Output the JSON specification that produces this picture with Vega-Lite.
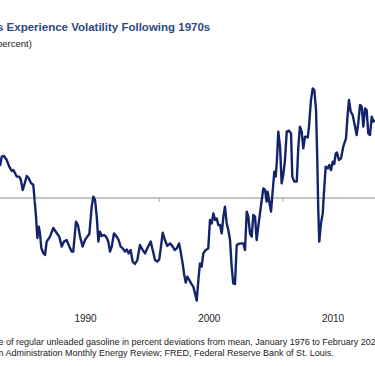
{
  "$schema": "https://vega.github.io/schema/vega-lite/v6.json",
  "width": 375,
  "height": 245,
  "autosize": {"type": "none"},
  "padding": {"left": 0, "top": 60, "right": 0, "bottom": 61},
  "background": "white",
  "title": {
    "text": "s Experience Volatility Following 1970s",
    "subtitle": "percent)",
    "anchor": "start",
    "frame": "group",
    "dx": -3,
    "offset": 12,
    "font": "Liberation Sans",
    "fontSize": 11.5,
    "fontWeight": "bold",
    "color": "#2c4a80",
    "subtitleFont": "Liberation Sans",
    "subtitleFontSize": 9.5,
    "subtitleColor": "#222222",
    "subtitlePadding": 5
  },
  "config": {"view": {"stroke": null}},
  "datasets": {
    "zero": [{"value": 0}],
    "ticks": [{"year": 1986, "value": 0}, {"year": 1996, "value": 0}, {"year": 2006, "value": 0}],
    "gas": [
      {"year": 1983.13, "value": 16}, {"year": 1983.27, "value": 20.7}, {"year": 1983.45, "value": 21}, {"year": 1983.67, "value": 19},
      {"year": 1983.88, "value": 15.7}, {"year": 1984.08, "value": 13.5}, {"year": 1984.21, "value": 14}, {"year": 1984.34, "value": 12.5},
      {"year": 1984.48, "value": 10.7}, {"year": 1984.67, "value": 10.7}, {"year": 1984.8, "value": 9.5}, {"year": 1984.97, "value": 4},
      {"year": 1985.09, "value": 6.5}, {"year": 1985.29, "value": 11}, {"year": 1985.45, "value": 10}, {"year": 1985.61, "value": 7.7},
      {"year": 1985.82, "value": 6.5}, {"year": 1985.93, "value": -1}, {"year": 1986.04, "value": -9.3}, {"year": 1986.15, "value": -20},
      {"year": 1986.26, "value": -14.3}, {"year": 1986.36, "value": -17.5}, {"year": 1986.47, "value": -25}, {"year": 1986.63, "value": -27.5},
      {"year": 1986.77, "value": -28.5}, {"year": 1986.9, "value": -21.8}, {"year": 1987.17, "value": -19.3}, {"year": 1987.44, "value": -15},
      {"year": 1987.71, "value": -17.5}, {"year": 1987.92, "value": -19.3}, {"year": 1988.12, "value": -24.3}, {"year": 1988.3, "value": -21.8},
      {"year": 1988.52, "value": -21}, {"year": 1988.68, "value": -23.5}, {"year": 1988.92, "value": -26.8}, {"year": 1989.05, "value": -26.8},
      {"year": 1989.27, "value": -11.8}, {"year": 1989.43, "value": -13.5}, {"year": 1989.6, "value": -19.3}, {"year": 1989.81, "value": -24.3},
      {"year": 1990.0, "value": -21}, {"year": 1990.19, "value": -19.3}, {"year": 1990.35, "value": -18}, {"year": 1990.54, "value": -4.3},
      {"year": 1990.67, "value": 0.7}, {"year": 1990.81, "value": -1}, {"year": 1990.95, "value": -9.3}, {"year": 1991.08, "value": -21.8},
      {"year": 1991.21, "value": -16.8}, {"year": 1991.35, "value": -19}, {"year": 1991.54, "value": -18.5}, {"year": 1991.7, "value": -19.3},
      {"year": 1991.88, "value": -21.8}, {"year": 1992.02, "value": -26.8}, {"year": 1992.16, "value": -24.3}, {"year": 1992.34, "value": -17.7},
      {"year": 1992.56, "value": -19.3}, {"year": 1992.72, "value": -21}, {"year": 1992.88, "value": -24.3}, {"year": 1993.05, "value": -25.2},
      {"year": 1993.23, "value": -26.8}, {"year": 1993.37, "value": -25.7}, {"year": 1993.53, "value": -27.7}, {"year": 1993.69, "value": -26},
      {"year": 1993.85, "value": -31.8}, {"year": 1994.04, "value": -33}, {"year": 1994.23, "value": -31}, {"year": 1994.44, "value": -23.5},
      {"year": 1994.66, "value": -26}, {"year": 1994.85, "value": -27.7}, {"year": 1994.99, "value": -25.7}, {"year": 1995.17, "value": -23.5},
      {"year": 1995.31, "value": -21.8}, {"year": 1995.47, "value": -26}, {"year": 1995.66, "value": -31}, {"year": 1995.84, "value": -31.8},
      {"year": 1996.0, "value": -30.7}, {"year": 1996.14, "value": -24.3}, {"year": 1996.28, "value": -17.3}, {"year": 1996.46, "value": -21},
      {"year": 1996.65, "value": -24}, {"year": 1996.87, "value": -22.7}, {"year": 1997.09, "value": -24.3}, {"year": 1997.25, "value": -26},
      {"year": 1997.41, "value": -25.2}, {"year": 1997.6, "value": -22.7}, {"year": 1997.73, "value": -26.8}, {"year": 1997.89, "value": -32.7},
      {"year": 1998.02, "value": -38.5}, {"year": 1998.14, "value": -42.3}, {"year": 1998.27, "value": -39.3}, {"year": 1998.43, "value": -41},
      {"year": 1998.57, "value": -42.7}, {"year": 1998.75, "value": -44.3}, {"year": 1998.89, "value": -47.7}, {"year": 1999.03, "value": -51.3},
      {"year": 1999.16, "value": -41}, {"year": 1999.29, "value": -32.7}, {"year": 1999.43, "value": -34.3}, {"year": 1999.56, "value": -27.7},
      {"year": 1999.75, "value": -26}, {"year": 1999.96, "value": -25.2}, {"year": 2000.1, "value": -11}, {"year": 2000.24, "value": -12.7},
      {"year": 2000.37, "value": -7.7}, {"year": 2000.51, "value": -11}, {"year": 2000.64, "value": -10.2}, {"year": 2000.77, "value": -13.5},
      {"year": 2000.91, "value": -13.5}, {"year": 2001.05, "value": -17.7}, {"year": 2001.18, "value": -9.3}, {"year": 2001.31, "value": -4.3},
      {"year": 2001.45, "value": -12.7}, {"year": 2001.58, "value": -16}, {"year": 2001.72, "value": -21}, {"year": 2001.85, "value": -34.3},
      {"year": 2001.98, "value": -42.7}, {"year": 2002.12, "value": -43}, {"year": 2002.26, "value": -23.5}, {"year": 2002.39, "value": -23},
      {"year": 2002.61, "value": -22.7}, {"year": 2002.79, "value": -22.7}, {"year": 2002.93, "value": -26}, {"year": 2003.07, "value": -6.8},
      {"year": 2003.2, "value": -9.3}, {"year": 2003.33, "value": -17.7}, {"year": 2003.47, "value": -19.3}, {"year": 2003.6, "value": -8.5},
      {"year": 2003.74, "value": -9.3}, {"year": 2003.87, "value": -21}, {"year": 2004.0, "value": -14.3}, {"year": 2004.14, "value": -7.7},
      {"year": 2004.28, "value": -1}, {"year": 2004.41, "value": 4.8}, {"year": 2004.55, "value": 4}, {"year": 2004.68, "value": -1.8},
      {"year": 2004.76, "value": 3.2}, {"year": 2004.87, "value": -1}, {"year": 2005.03, "value": -6.8}, {"year": 2005.14, "value": 1.5},
      {"year": 2005.3, "value": 13.2}, {"year": 2005.41, "value": 10.7}, {"year": 2005.51, "value": 19}, {"year": 2005.62, "value": 33.2},
      {"year": 2005.76, "value": 25.7}, {"year": 2005.89, "value": 7.3}, {"year": 2006.02, "value": 11.5}, {"year": 2006.16, "value": 19},
      {"year": 2006.3, "value": 33.2}, {"year": 2006.48, "value": 33.7}, {"year": 2006.65, "value": 32.3}, {"year": 2006.75, "value": 10.7},
      {"year": 2006.91, "value": 8.2}, {"year": 2007.11, "value": 8.2}, {"year": 2007.24, "value": 25.7}, {"year": 2007.37, "value": 35.7},
      {"year": 2007.51, "value": 33.2}, {"year": 2007.64, "value": 24.8}, {"year": 2007.78, "value": 30.7}, {"year": 2008.0, "value": 30.3},
      {"year": 2008.1, "value": 35.7}, {"year": 2008.26, "value": 49}, {"year": 2008.4, "value": 54.8}, {"year": 2008.53, "value": 54},
      {"year": 2008.67, "value": 44}, {"year": 2008.77, "value": 19}, {"year": 2008.85, "value": -6}, {"year": 2008.93, "value": -21.8},
      {"year": 2009.07, "value": -12.7}, {"year": 2009.21, "value": -7.7}, {"year": 2009.34, "value": 5.7}, {"year": 2009.45, "value": 15.7},
      {"year": 2009.61, "value": 14.8}, {"year": 2009.74, "value": 16.5}, {"year": 2009.88, "value": 14}, {"year": 2010.02, "value": 18.2},
      {"year": 2010.14, "value": 17}, {"year": 2010.26, "value": 22.3}, {"year": 2010.36, "value": 22.7}, {"year": 2010.52, "value": 19},
      {"year": 2010.69, "value": 19.8}, {"year": 2010.87, "value": 25.7}, {"year": 2011.09, "value": 29.8}, {"year": 2011.23, "value": 42.3},
      {"year": 2011.33, "value": 49}, {"year": 2011.47, "value": 43.2}, {"year": 2011.63, "value": 41.5}, {"year": 2011.82, "value": 35.7},
      {"year": 2011.95, "value": 31.5}, {"year": 2012.08, "value": 37.3}, {"year": 2012.22, "value": 46.5}, {"year": 2012.36, "value": 45.7},
      {"year": 2012.49, "value": 35.7}, {"year": 2012.63, "value": 44.8}, {"year": 2012.76, "value": 44}, {"year": 2012.89, "value": 32.3},
      {"year": 2013.03, "value": 31.5}, {"year": 2013.17, "value": 40.7}, {"year": 2013.3, "value": 38.2}, {"year": 2013.43, "value": 39}
    ]
  },
  "layer": [
    {
      "data": {"name": "zero"},
      "mark": {"type": "rule", "color": "#8c8c8c", "strokeWidth": 1},
      "encoding": {
        "y": {"field": "value", "type": "quantitative", "scale": {"domain": [-53.5, 69], "nice": false, "zero": false}, "axis": null}
      }
    },
    {
      "data": {"name": "gas"},
      "mark": {"type": "line", "color": "#14246a", "strokeWidth": 2.4, "clip": true, "strokeJoin": "round"},
      "encoding": {
        "x": {
          "field": "year",
          "type": "quantitative",
          "scale": {"domain": [1983.131, 2013.434], "nice": false, "zero": false},
          "axis": {
            "values": [1990, 2000, 2010],
            "format": "d",
            "ticks": false,
            "domain": false,
            "grid": false,
            "labelPadding": 8,
            "labelFont": "Liberation Sans",
            "labelFontSize": 10,
            "labelColor": "#222222",
            "labelFlush": false,
            "title": ["e of regular unleaded gasoline in percent deviations from mean, January 1976 to February 2020", "n Administration  Monthly Energy Review; FRED, Federal Reserve Bank of St. Louis."],
            "titleFont": "Liberation Sans",
            "titleFontSize": 9,
            "titleFontWeight": "normal",
            "titleColor": "#222222",
            "titleAlign": "left",
            "titleAnchor": "start",
            "titleBaseline": "alphabetic",
            "titleX": -2,
            "titleY": 39,
            "titleLineHeight": 11,
            "titleLimit": 2000
          }
        },
        "y": {"field": "value", "type": "quantitative", "scale": {"domain": [-53.5, 69], "nice": false, "zero": false}, "axis": null}
      }
    },
    {
      "data": {"name": "ticks"},
      "mark": {"type": "tick", "orient": "vertical", "color": "#8c8c8c", "size": 4, "thickness": 1, "yOffset": 2},
      "encoding": {
        "x": {"field": "year", "type": "quantitative"},
        "y": {"field": "value", "type": "quantitative"}
      }
    }
  ]
}
